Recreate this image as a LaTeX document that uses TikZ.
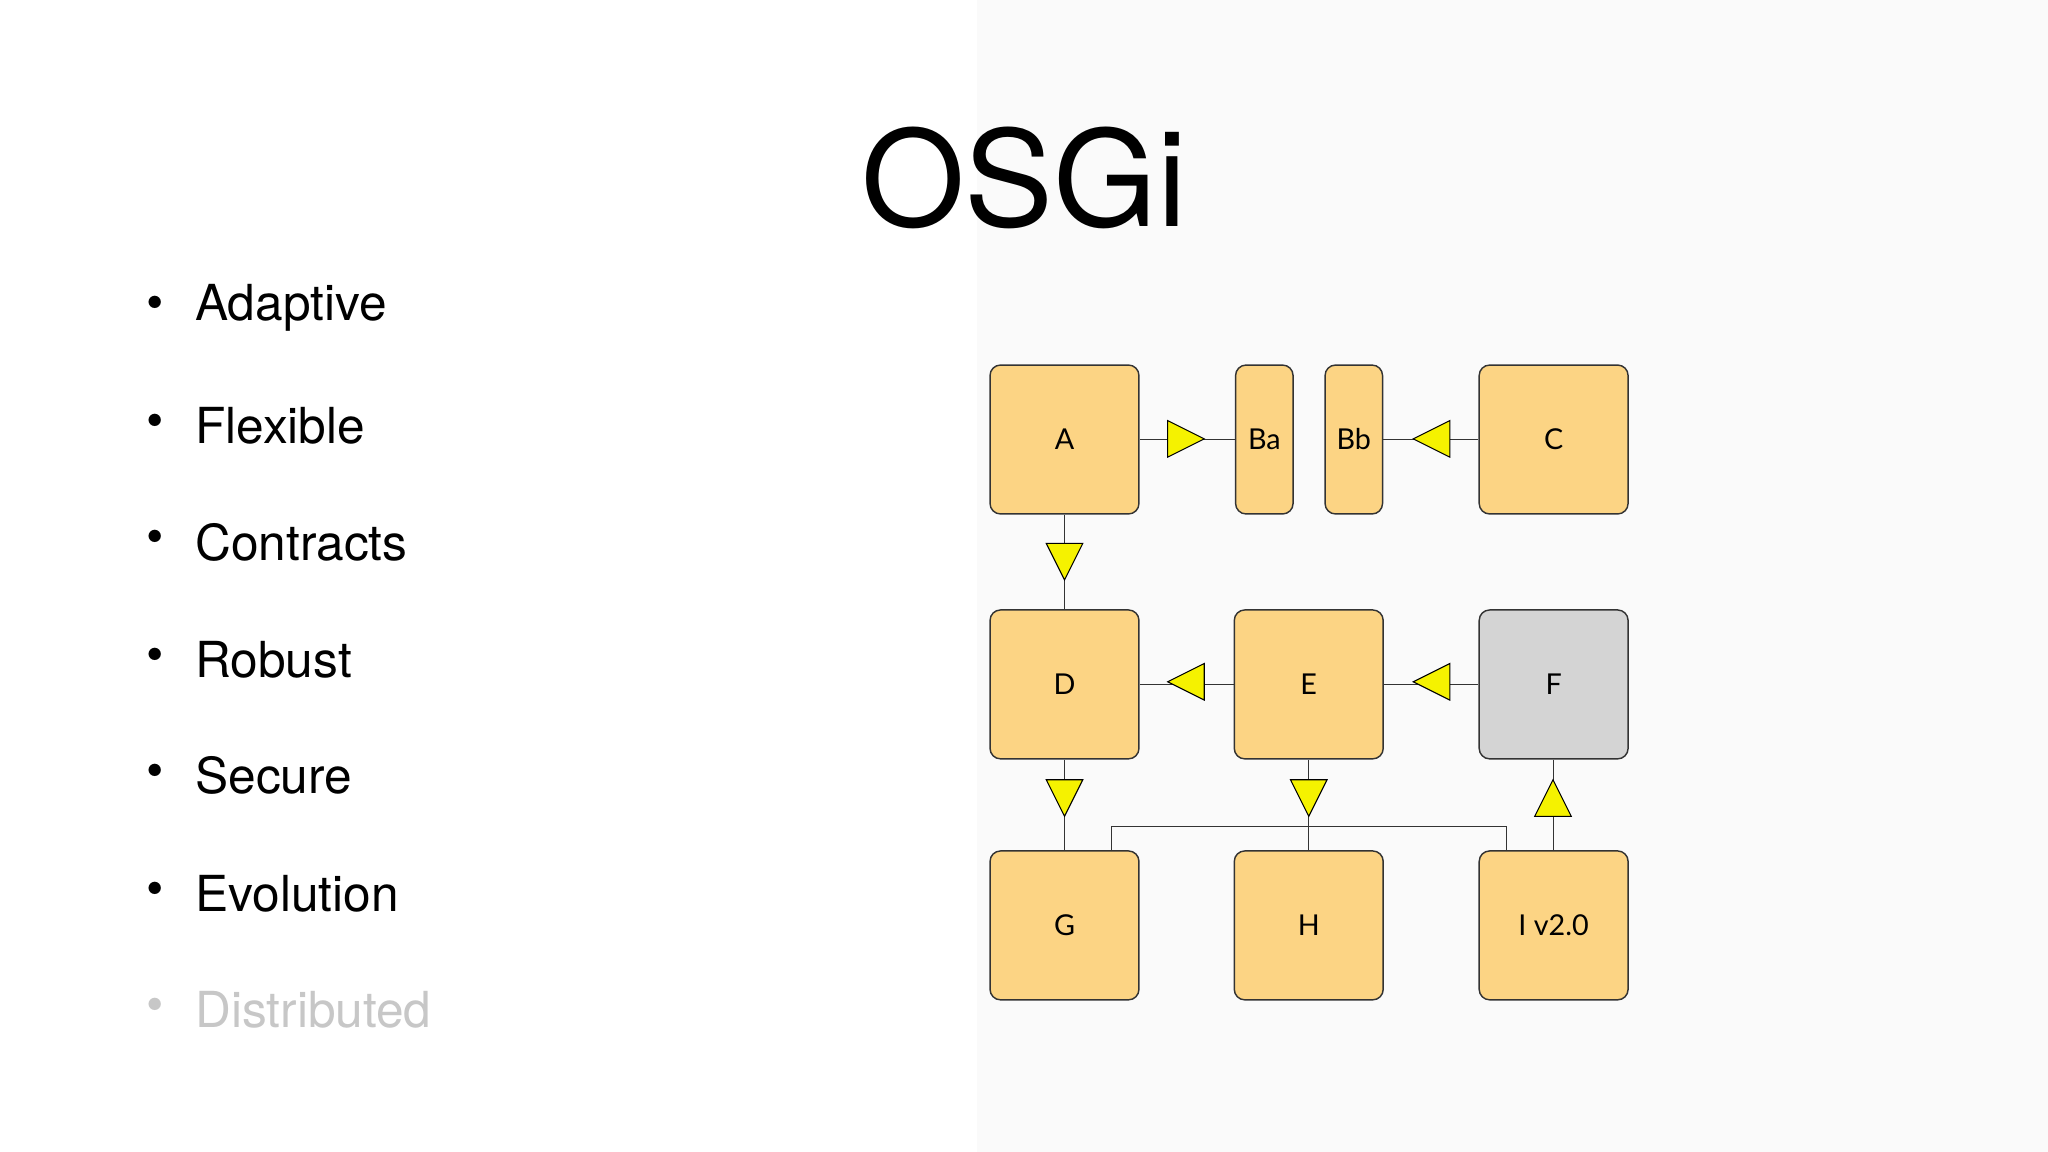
\documentclass[tikz,border=0pt]{standalone}
\usepackage{fontspec}
\setmainfont{TeX Gyre Heros}
\newfontfamily\boxfont{Lato}
\begin{document}
\begin{tikzpicture}[x=1pt,y=-1pt,
  box/.style={draw=black!80,line width=1.1pt,fill=orange!30!yellow!60!white,rounded corners=8pt,inner sep=0pt,font=\boxfont\fontsize{22}{24}\selectfont},
  sq/.style={box,minimum width=114pt,minimum height=114pt},
  nar/.style={box,minimum width=44pt,minimum height=114pt},
  lnk/.style={draw=black!80,line width=0.7pt},
  bl/.style={anchor=west,font=\fontsize{38}{44}\selectfont},
  dot/.style={font=\fontsize{38}{44}\selectfont},
  tri/.pic={\draw[fill={rgb,255:red,245;green,242;blue,0},draw=black,line width=0.8pt] (14,0) -- (-14,14) -- (-14,-14) -- cycle;}]
\definecolor{boxc}{RGB}{252,212,132}
\tikzset{box/.append style={fill=boxc}}
\useasboundingbox (0,0) rectangle (1568,882);
\fill[white] (0,0) rectangle (1568,882);
\fill[black!2] (748,0) rectangle (1568,882);
\node[font=\fontsize{102}{110}\selectfont] (title) at (784,136) {OSGi};
\foreach \t/\yy [count=\i] in {Adaptive/236,Flexible/326,Contracts/415,Robust/505,Secure/594,Evolution/684}{
  \node[dot] (d\i) at (119,\yy) {\textbullet};
  \node[bl] (b\i) at (146,\yy) {\t};}
\node[dot,text=black!22] (d7) at (119,773) {\textbullet};
\node[bl,text=black!22] (b7) at (146,773) {Distributed};
\node[sq] (A) at (815,336.5) {A};
\node[nar] (Ba) at (968,336.5) {Ba};
\node[nar] (Bb) at (1036.5,336.5) {Bb};
\node[sq] (C) at (1189.5,336.5) {C};
\node[sq] (D) at (815,524) {D};
\node[sq] (E) at (1002,524) {E};
\node[sq,fill=black!17] (F) at (1189.5,524) {F};
\node[sq] (G) at (815,708.5) {G};
\node[sq] (H) at (1002,708.5) {H};
\node[sq] (I) at (1189.5,708.5) {I v2.0};
\draw[lnk] (A) -- (Ba);
\draw[lnk] (Bb) -- (C);
\draw[lnk] (A) -- (D);
\draw[lnk] (D) -- (E);
\draw[lnk] (E) -- (F);
\draw[lnk] (D) -- (G);
\draw[lnk] (E) -- (H);
\draw[lnk] (F) -- (I);
\draw[lnk] ([xshift=36pt]G.north) -- ++(0,-18) -| ([xshift=-36pt]I.north);
\pic at (908,336) {tri};
\pic[rotate=180] at (1096,336) {tri};
\pic[rotate=-90] at (815,430) {tri};
\pic[rotate=180] at (908,522) {tri};
\pic[rotate=180] at (1096,522) {tri};
\pic[rotate=-90] at (815,611) {tri};
\pic[rotate=-90] at (1002,611) {tri};
\pic[rotate=90] at (1189,611) {tri};
\end{tikzpicture}
\end{document}
